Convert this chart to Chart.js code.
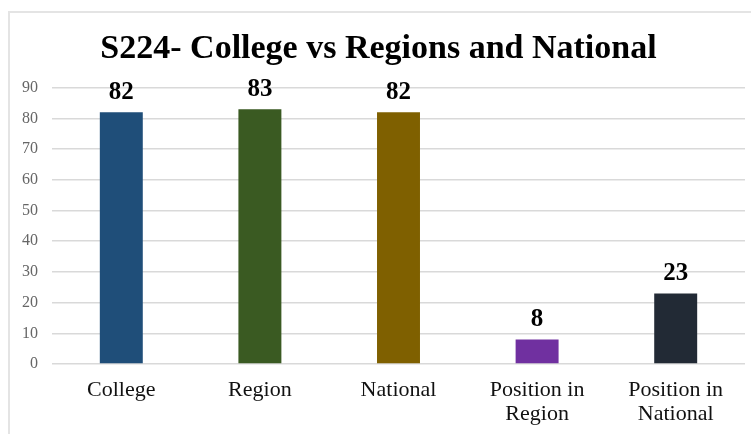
<!DOCTYPE html>
<html>
<head>
<meta charset="utf-8">
<script src="https://cdn.jsdelivr.net/npm/chart.js@4/dist/chart.umd.min.js"></script>
<style>
html,body{margin:0;padding:0;background:#fff;}
#wrap{position:absolute;left:0;top:0;width:751px;height:434px;}
#frame{position:absolute;left:8px;top:11px;width:745px;height:430px;border-left:2px solid #e4e4e4;border-top:2px solid #e4e4e4;}
canvas{position:absolute;left:0;top:0;}
</style>
</head>
<body>
<div id="wrap"><div id="frame"></div><canvas id="c" width="751" height="434"></canvas></div>
<script>
const categories = [["College"], ["Region"], ["National"], ["Position in", "Region"], ["Position in", "National"]];
const values = [82, 83, 82, 8, 23];
const barColors = ["#1f4e79", "#3a5a22", "#7f6000", "#7030a0", "#222a35"];
const yTicks = [0, 10, 20, 30, 40, 50, 60, 70, 80, 90];

const valueLabels = {
  id: 'valueLabels',
  afterDatasetsDraw(chart) {
    const ctx = chart.ctx;
    const meta = chart.getDatasetMeta(0);
    ctx.save();
    ctx.font = 'bold 25px "Liberation Serif", serif';
    ctx.fillStyle = '#000';
    ctx.textAlign = 'center';
    ctx.textBaseline = 'alphabetic';
    meta.data.forEach((bar, i) => {
      ctx.fillText(String(chart.data.datasets[0].data[i]), bar.x, bar.y - 13);
    });
    ctx.restore();
  }
};

new Chart(document.getElementById('c'), {
  type: 'bar',
  data: {
    labels: categories,
    datasets: [{
      data: values,
      backgroundColor: barColors,
      categoryPercentage: 1,
      barPercentage: 0.31
    }]
  },
  options: {
    responsive: false,
    animation: false,
    layout: { padding: { left: 12, right: 6, top: 8, bottom: 7 } },
    plugins: {
      legend: { display: false },
      tooltip: { enabled: false },
      title: {
        display: true,
        text: 'S224- College vs Regions and National',
        color: '#000',
        font: { family: '"Liberation Serif", serif', size: 34, weight: 'bold' },
        padding: { top: 21, bottom: 18 }
      }
    },
    scales: {
      y: {
        min: 0, max: 90,
        afterBuildTicks(scale) { scale.ticks = yTicks.map(v => ({ value: v })); },
        afterFit(scale) { scale.width = 40; },
        grid: { color: '#d9d9d9', lineWidth: 1.5, drawTicks: false },
        border: { display: false },
        ticks: {
          color: '#666',
          padding: 14,
          font: { family: '"Liberation Serif", serif', size: 16 }
        }
      },
      x: {
        afterFit(scale) { scale.height = 63; },
        grid: { display: false, drawTicks: false },
        border: { display: false },
        ticks: {
          color: '#111',
          padding: 14,
          maxRotation: 0,
          autoSkip: false,
          font: { family: '"Liberation Serif", serif', size: 22, lineHeight: 1.1 }
        }
      }
    }
  },
  plugins: [valueLabels]
});
</script>
</body>
</html>
